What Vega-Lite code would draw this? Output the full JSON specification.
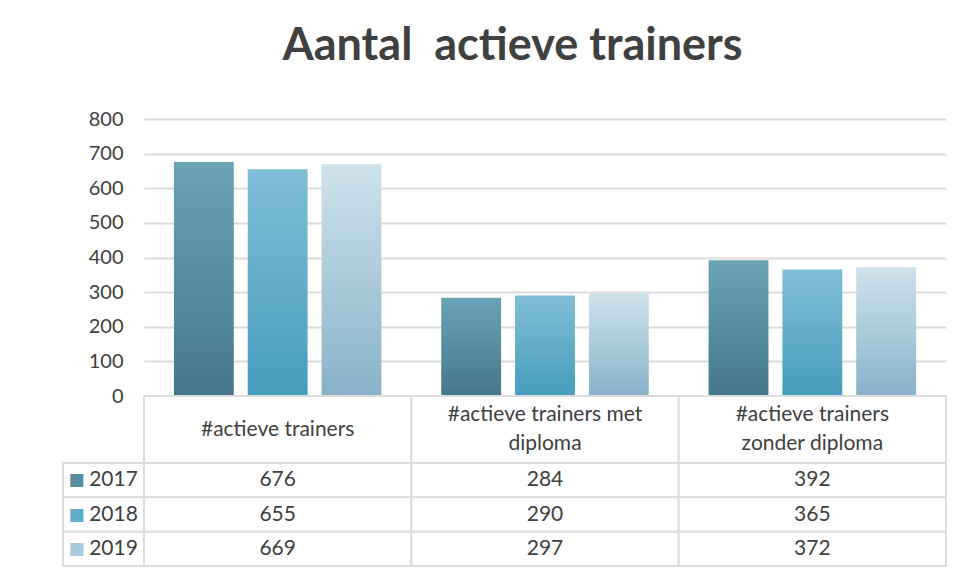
{
  "$schema": "https://vega.github.io/schema/vega-lite/v6.json",
  "padding": {"left": 62, "right": 12, "top": 24, "bottom": 15},
  "background": "white",
  "title": {"text": "Aantal\u00a0 actieve trainers", "fontSize": 45, "font": "Lato", "fontWeight": "bold", "color": "#404040", "anchor": "middle", "offset": 40, "dx": 8},
  "datasets": {
    "d": [
      {"cat": "#actieve trainers", "year": "2017", "value": 676},
      {"cat": "#actieve trainers", "year": "2018", "value": 655},
      {"cat": "#actieve trainers", "year": "2019", "value": 669},
      {"cat": "#actieve trainers met\ndiploma", "year": "2017", "value": 284},
      {"cat": "#actieve trainers met\ndiploma", "year": "2018", "value": 290},
      {"cat": "#actieve trainers met\ndiploma", "year": "2019", "value": 297},
      {"cat": "#actieve trainers\nzonder diploma", "year": "2017", "value": 392},
      {"cat": "#actieve trainers\nzonder diploma", "year": "2018", "value": 365},
      {"cat": "#actieve trainers\nzonder diploma", "year": "2019", "value": 372}
    ]
  },
  "data": {"name": "d"},
  "columns": 2,
  "spacing": 0,
  "bounds": "flush",
  "align": "each",
  "concat": [
    {"width": 81, "height": 277, "transform": [{"filter": "datum.year == '2017' && datum.value == 676"}], "mark": {"type": "text"}, "encoding": {"text": {"value": ""}}},
    {
      "width": 802, "height": 277,
      "encoding": {
        "x": {"field": "cat", "type": "nominal", "sort": null, "scale": {"paddingInner": 0, "paddingOuter": 0}, "axis": null},
        "xOffset": {"field": "year", "type": "nominal", "scale": {"domain": ["2017", "2018", "2019"], "paddingInner": 0.189, "paddingOuter": 0.405}},
        "y": {"field": "value", "type": "quantitative", "scale": {"domain": [0, 800]}, "axis": {"title": null, "values": [0, 100, 200, 300, 400, 500, 600, 700, 800], "domain": false, "ticks": false, "labelPadding": 21, "labelFont": "Lato", "labelFontSize": 20, "labelColor": "#404040", "gridColor": "#dcdcdc", "gridWidth": 2}}
      },
      "layer": [
        {"transform": [{"filter": "datum.year == '2017'"}], "mark": {"type": "bar", "color": {"gradient": "linear", "x1": 0, "y1": 0, "x2": 0, "y2": 1, "stops": [{"offset": 0, "color": "#6AA3B6"}, {"offset": 1, "color": "#45778B"}]}}},
        {"transform": [{"filter": "datum.year == '2018'"}], "mark": {"type": "bar", "color": {"gradient": "linear", "x1": 0, "y1": 0, "x2": 0, "y2": 1, "stops": [{"offset": 0, "color": "#80BED6"}, {"offset": 1, "color": "#469CBC"}]}}},
        {"transform": [{"filter": "datum.year == '2019'"}], "mark": {"type": "bar", "color": {"gradient": "linear", "x1": 0, "y1": 0, "x2": 0, "y2": 1, "stops": [{"offset": 0, "color": "#CEE2EC"}, {"offset": 1, "color": "#88B2C8"}]}}}
      ]
    },
    {"width": 81, "height": 67, "transform": [{"filter": "datum.year == '2017' && datum.value == 676"}], "mark": {"type": "text"}, "encoding": {"text": {"value": ""}}},
    {
      "width": 802, "height": 67,
      "transform": [{"filter": "datum.year == '2017'"}],
      "encoding": {"x": {"field": "cat", "type": "nominal", "sort": null, "scale": {"paddingInner": 0, "paddingOuter": 0}, "axis": null}},
      "layer": [
        {"mark": {"type": "rect", "fill": "white", "stroke": "#dcdcdc", "strokeWidth": 2}},
        {"transform": [{"filter": "indexof(datum.cat, '\\n') < 0"}], "mark": {"type": "text", "font": "Lato", "fontSize": 21, "color": "#404040"}, "encoding": {"text": {"field": "cat"}}},
        {"transform": [{"filter": "indexof(datum.cat, '\\n') >= 0"}], "mark": {"type": "text", "font": "Lato", "fontSize": 21, "color": "#404040", "lineBreak": "\n", "lineHeight": 29, "dy": -15}, "encoding": {"text": {"field": "cat"}}}
      ]
    },
    {
      "width": 81, "height": 103,
      "transform": [{"filter": "datum.value == 676 || datum.value == 655 || datum.value == 669"}],
      "encoding": {"y": {"field": "year", "type": "ordinal", "scale": {"paddingInner": 0, "paddingOuter": 0}, "axis": null}},
      "layer": [
        {"mark": {"type": "rect", "fill": "white", "stroke": "#dcdcdc", "strokeWidth": 2}},
        {"mark": {"type": "text", "text": "■", "font": "DejaVu Sans", "fontSize": 17, "dx": -27}, "encoding": {"color": {"field": "year", "type": "nominal", "scale": {"domain": ["2017", "2018", "2019"], "range": ["#578DA0", "#5EAECB", "#A9CADA"]}, "legend": null}}},
        {"mark": {"type": "text", "font": "Lato", "fontSize": 21, "color": "#404040", "dx": 10}, "encoding": {"text": {"field": "year"}}}
      ]
    },
    {
      "width": 802, "height": 103,
      "encoding": {
        "x": {"field": "cat", "type": "nominal", "sort": null, "scale": {"paddingInner": 0, "paddingOuter": 0}, "axis": null},
        "y": {"field": "year", "type": "ordinal", "scale": {"paddingInner": 0, "paddingOuter": 0}, "axis": null}
      },
      "layer": [
        {"mark": {"type": "rect", "fill": "white", "stroke": "#dcdcdc", "strokeWidth": 2}},
        {"mark": {"type": "text", "font": "Lato", "fontSize": 21, "color": "#404040"}, "encoding": {"text": {"field": "value"}}}
      ]
    }
  ],
  "config": {"view": {"stroke": null}}
}
